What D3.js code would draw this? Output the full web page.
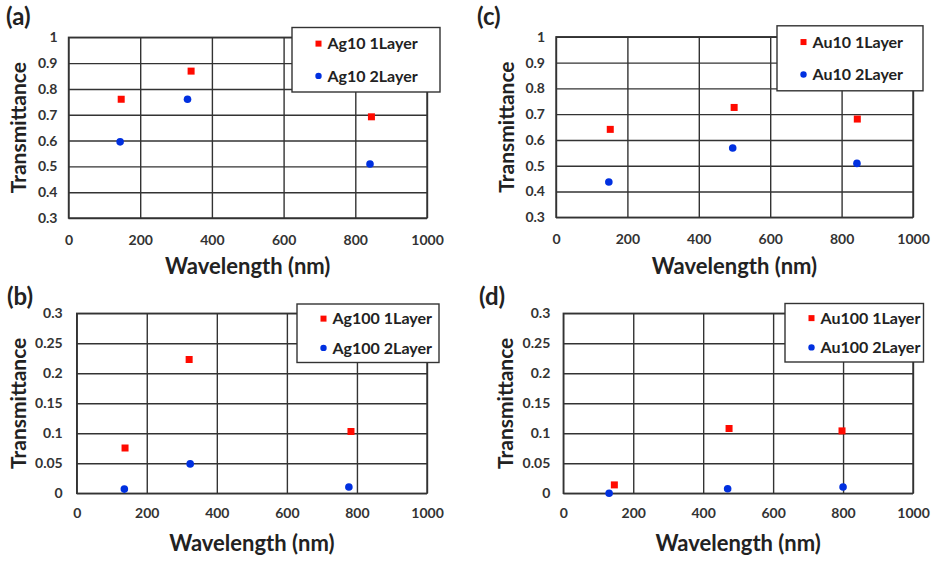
<!DOCTYPE html>
<html>
<head>
<meta charset="utf-8">
<script src="https://cdn.jsdelivr.net/npm/d3@7"></script>
<style>
  body { margin: 0; background: #fff; }
  text { font-family: Lato, "Liberation Sans", sans-serif; font-weight: bold; }
</style>
</head>
<body>
<svg id="chart" width="935" height="562"></svg>
<script>
// values: [wavelength (nm), transmittance]
const ag10Layer1 = [[147, 0.760], [342, 0.869], [845, 0.692]];
const ag10Layer2 = [[144, 0.595], [332, 0.760], [841, 0.509]];
const au10Layer1 = [[152, 0.641], [499, 0.726], [844, 0.681]];
const au10Layer2 = [[148, 0.437], [495, 0.569], [843, 0.509]];
const ag100Layer1 = [[138, 0.0755], [321, 0.223], [783, 0.103]];
const ag100Layer2 = [[136, 0.007], [324, 0.049], [777, 0.0105]];
const au100Layer1 = [[146, 0.014], [474, 0.108], [797, 0.104]];
const au100Layer2 = [[131, 0.000], [470, 0.0077], [800, 0.0105]];

const xTicks = [0, 200, 400, 600, 800, 1000];
const yTicksThin = [0.3, 0.4, 0.5, 0.6, 0.7, 0.8, 0.9, 1];
const yTicksThick = [0, 0.05, 0.1, 0.15, 0.2, 0.25, 0.3];

const panels = [
  { tag: "(a)", names: ["Ag10 1Layer", "Ag10 2Layer"], s1: ag10Layer1, s2: ag10Layer2, yTicks: yTicksThin,
    box: [68.5, 37.3, 427, 218], tagPos: [6, 25], legend: [292, 27.5, 148, 64.5], ytPad: 11, xtPad: 17, titleY: 274, yTitleX: 19 },
  { tag: "(c)", names: ["Au10 1Layer", "Au10 2Layer"], s1: au10Layer1, s2: au10Layer2, yTicks: yTicksThin,
    box: [556, 36.8, 913, 217.3], tagPos: [477, 25], legend: [777, 25.8, 146, 65], ytPad: 11, xtPad: 17, titleY: 274, yTitleX: 507 },
  { tag: "(b)", names: ["Ag100 1Layer", "Ag100 2Layer"], s1: ag100Layer1, s2: ag100Layer2, yTicks: yTicksThick,
    box: [76.7, 313.3, 427, 493.3], tagPos: [7, 305], legend: [297, 304, 142, 58.5], ytPad: 14, xtPad: 15, titleY: 551, yTitleX: 19 },
  { tag: "(d)", names: ["Au100 1Layer", "Au100 2Layer"], s1: au100Layer1, s2: au100Layer2, yTicks: yTicksThick,
    box: [563.3, 313.3, 913, 493.3], tagPos: [479, 305], legend: [785, 303.5, 138.5, 58.5], ytPad: 13, xtPad: 15, titleY: 551, yTitleX: 506 }
];

const svg = d3.select("#chart");
const gridColor = "#333";
const red = "#ff0a00";
const blue = "#0030e0";

panels.forEach(p => {
  const [x0, y0, x1, y1] = p.box;
  const x = d3.scaleLinear().domain([0, 1000]).range([x0, x1]);
  const y = d3.scaleLinear().domain(d3.extent(p.yTicks)).range([y1, y0]);
  const g = svg.append("g");

  const xAxis = g.append("g")
    .attr("transform", `translate(0,${y1})`)
    .call(d3.axisBottom(x).tickValues(xTicks).tickSize(-(y1 - y0)).tickPadding(p.xtPad).tickFormat(d3.format("d")));
  const yAxis = g.append("g")
    .attr("transform", `translate(${x0},0)`)
    .call(d3.axisLeft(y).tickValues(p.yTicks).tickSize(-(x1 - x0)).tickPadding(p.ytPad).tickFormat(d => String(d)));

  [xAxis, yAxis].forEach(a => {
    a.select(".domain").remove();
    a.selectAll("line").attr("stroke", gridColor).attr("stroke-width", 1.4);
    a.selectAll("text").attr("fill", "#333").attr("font-size", 14)
      .style("font-family", "Lato, sans-serif").style("font-weight", "bold");
  });

  g.append("rect")
    .attr("x", x0).attr("y", y0).attr("width", x1 - x0).attr("height", y1 - y0)
    .attr("fill", "none").attr("stroke", gridColor).attr("stroke-width", 1.4);

  // series 1: squares
  g.selectAll(".sq").data(p.s1).enter().append("rect")
    .attr("x", d => x(d[0]) - 3.5).attr("y", d => y(d[1]) - 3.5)
    .attr("width", 7).attr("height", 7).attr("fill", red);
  // series 2: circles
  g.selectAll(".dot").data(p.s2).enter().append("circle")
    .attr("cx", d => x(d[0])).attr("cy", d => y(d[1])).attr("r", 3.8).attr("fill", blue);

  // axis titles
  g.append("text")
    .attr("x", (x0 + x1) / 2).attr("y", p.titleY)
    .attr("text-anchor", "middle").attr("font-size", 22).attr("fill", "#222")
    .text("Wavelength (nm)");
  g.append("text")
    .attr("transform", `translate(${p.yTitleX + 7},${(y0 + y1) / 2}) rotate(-90)`)
    .attr("text-anchor", "middle").attr("font-size", 21).attr("fill", "#222")
    .text("Transmittance");

  g.append("text")
    .attr("x", p.tagPos[0]).attr("y", p.tagPos[1])
    .attr("font-size", 24).attr("fill", "#222")
    .text(p.tag);

  // legend
  const [lx, ly, lw, lh] = p.legend;
  const lg = g.append("g").attr("transform", `translate(${lx},${ly})`);
  lg.append("rect").attr("width", lw).attr("height", lh)
    .attr("fill", "#fff").attr("stroke", gridColor).attr("stroke-width", 1.4);
  const rowY = [lh * 0.25, lh * 0.75];
  lg.append("rect").attr("x", 23.5).attr("y", rowY[0] - 3).attr("width", 6).attr("height", 6).attr("fill", red);
  lg.append("circle").attr("cx", 26.5).attr("cy", rowY[1]).attr("r", 3.2).attr("fill", blue);
  p.names.forEach((n, i) => {
    lg.append("text")
      .attr("x", 35.5).attr("y", rowY[i]).attr("dy", "0.36em")
      .attr("font-size", 16).attr("fill", "#222")
      .text(n);
  });
});
</script>
</body>
</html>
